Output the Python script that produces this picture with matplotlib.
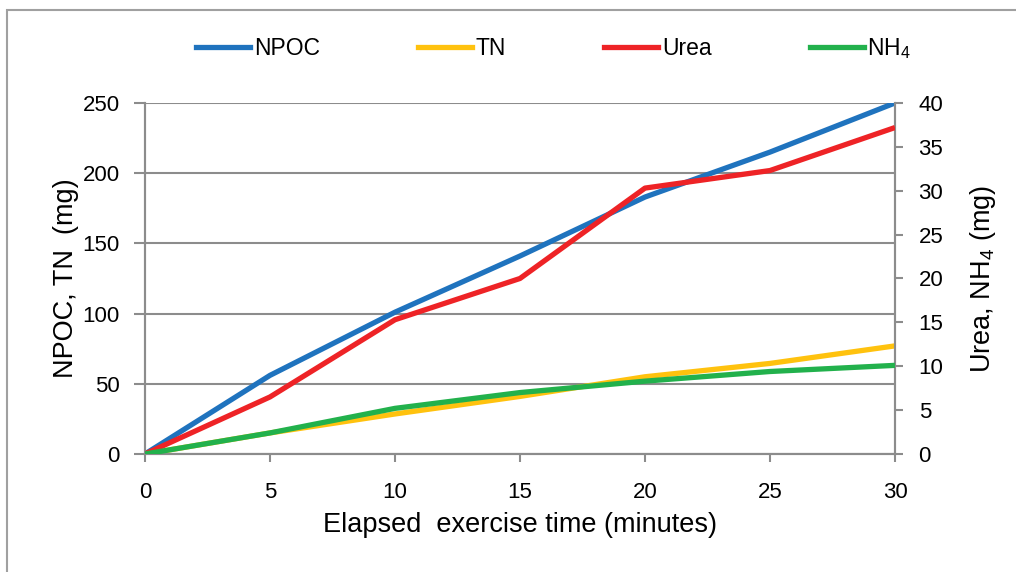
import matplotlib
matplotlib.use("Agg")
import matplotlib.pyplot as plt
from matplotlib.lines import Line2D
from matplotlib.patches import Rectangle

plt.rcParams['font.family'] = ['Liberation Sans', 'DejaVu Sans']
plt.rcParams['mathtext.fontset'] = 'custom'
plt.rcParams['mathtext.rm'] = 'Liberation Sans'
plt.rcParams['mathtext.it'] = 'Liberation Sans'

# elapsed time (minutes)
minutes = [0, 5, 10, 15, 20, 25, 30]
# left axis (mg)
npoc = [0, 56, 101, 141, 183, 215, 250]
tn = [0, 15, 28.5, 41, 55, 64.5, 77]
# right axis (mg)
urea = [0, 6.5, 15.3, 20, 30.3, 32.3, 37.2]
nh4 = [0, 2.4, 5.2, 7.0, 8.3, 9.4, 10.1]

blue = '#1f73be'
yellow = '#ffc20e'
red = '#ee2326'
green = '#22b14c'
grey = '#8c8c8c'

fig = plt.figure(figsize=(10.16, 5.72), dpi=100)
ax = fig.add_axes([0.1427, 0.2063, 0.7382, 0.6137])
ax2 = ax.twinx()

lw = 3.8
ax.plot(minutes, npoc, color=blue, lw=lw, solid_capstyle='butt', zorder=3)
ax.plot(minutes, tn, color=yellow, lw=lw, solid_capstyle='butt', zorder=3)
ax2.plot(minutes, urea, color=red, lw=lw, solid_capstyle='butt', zorder=3)
ax2.plot(minutes, nh4, color=green, lw=lw, solid_capstyle='butt', zorder=3)

ax.set_xlim(0, 30)
ax.set_ylim(0, 250)
ax2.set_ylim(0, 40)
ax.set_xticks(range(0, 31, 5))
ax.set_yticks(range(0, 251, 50))
ax2.set_yticks(range(0, 41, 5))

ax.grid(axis='y', color=grey, lw=1.5)
ax.set_axisbelow(True)

for a in (ax, ax2):
    a.spines['top'].set_visible(False)
    for s in ('left', 'right', 'bottom'):
        a.spines[s].set_color(grey)
        a.spines[s].set_linewidth(1.5)
    a.set_facecolor('none')

ax.tick_params(axis='x', length=6, width=1.5, color=grey, pad=14, labelsize=16)
ax.tick_params(axis='y', length=8, width=1.5, color=grey, pad=10, labelsize=16)
ax2.tick_params(axis='y', length=6, width=1.5, color=grey, pad=11, labelsize=16)

ax.set_xlabel('Elapsed  exercise time (minutes)', fontsize=19.5, labelpad=7)
ax.set_ylabel('NPOC, TN  (mg)', fontsize=19.5, labelpad=3)
ax2.set_ylabel('Urea, NH$_4$ (mg)', fontsize=19.5, labelpad=18)

handles = [Line2D([], [], color=c, lw=lw) for c in (blue, yellow, red, green)]
labels = ['NPOC', 'TN', 'Urea', 'NH$_4$']
fig.legend(handles, labels, loc='center', bbox_to_anchor=(0.545, 0.915), ncol=4,
           frameon=False, fontsize=16.5, handlelength=2.35, handletextpad=0.15,
           columnspacing=4.3)

# chart-area border (partly visible)
fig.patches.append(Rectangle((0.007, -0.1), 1.2, 1.083, transform=fig.transFigure,
                             fill=False, edgecolor='#a0a0a0', lw=1.5))

fig.savefig('out.png', dpi=100)
